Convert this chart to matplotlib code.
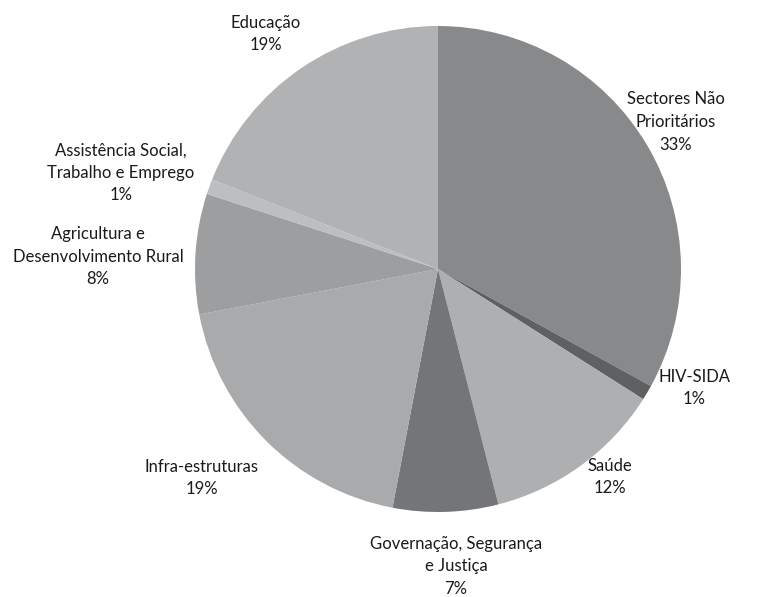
import matplotlib.pyplot as plt

# sector shares (%), clockwise from 12 o'clock
sectors = ["Sectores Não\nPrioritários", "HIV-SIDA", "Saúde",
           "Governação, Segurança\ne Justiça", "Infra-estruturas",
           "Agricultura e\nDesenvolvimento Rural",
           "Assistência Social,\nTrabalho e Emprego", "Educação"]
shares = [33, 1, 12, 7, 19, 8, 1, 19]
colors = ["#88898b", "#5f6062", "#aeafb1", "#747578", "#a9aaac",
          "#9d9ea0", "#bdbebf", "#b1b2b4"]

# label centres in pixel coords (top-left origin)
label_xy = [(676, 122), (694, 388), (610, 477), (456, 566), (202, 478),
            (98, 257), (121, 173), (266, 34)]

W, H = 757, 597
fig = plt.figure(figsize=(W / 100, H / 100), dpi=100)
ax = fig.add_axes([0, 0, 1, 1])

ax.pie(shares, colors=colors, startangle=90, counterclock=False,
       center=(438, H - 269), radius=243, frame=True,
       wedgeprops={"linewidth": 0})
ax.set_xlim(0, W)
ax.set_ylim(0, H)
ax.set_aspect("equal")
ax.axis("off")

for name, val, (x, y) in zip(sectors, shares, label_xy):
    ax.text(x, H - y, name + "\n" + str(val) + "%", ha="center", va="center",
            fontsize=12, family="Lato", color="#1a1a1a", linespacing=1.5)

fig.savefig("out.png", dpi=100, facecolor="white")
